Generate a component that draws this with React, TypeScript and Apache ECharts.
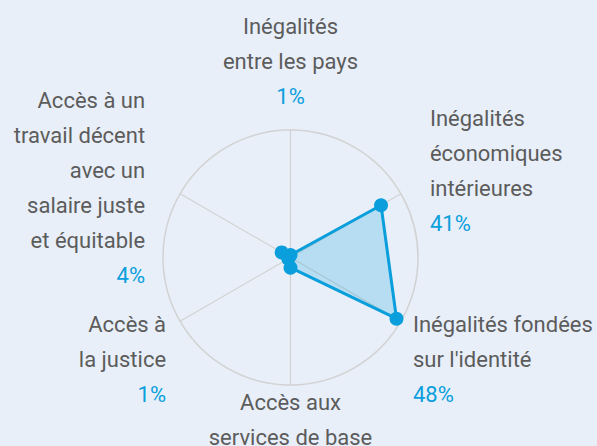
import React, { useEffect, useRef } from "react";
import * as echarts from "echarts";

// Categories in clockwise order, starting at the top
const categories: string[] = [
  "Inégalités\nentre les pays",
  "Inégalités\néconomiques\nintérieures",
  "Inégalités fondées\nsur l'identité",
  "Accès aux\nservices de base",
  "Accès à\nla justice",
  "Accès à un\ntravail décent\navec un\nsalaire juste\net équitable",
];
const values: number[] = [1, 41, 48, 4, 1, 4];
const axisMax = 50;

// Layout tweaks for each label (clockwise order)
const labelPadH = [0, 29, 12, 0, 14, 35];
const labelSpaceTop = [0, 0, 76, 0, 76, 0];
const labelSpaceBottom = [16, 46, 0, 0, 0, 12];
const labelSide = ["c", "l", "l", "c", "r", "r"];

const FONT = "Roboto, 'Liberation Sans', sans-serif";
const FS = 22;
const GRAY = "#5c5c5c";
const BLUE = "#0a9fdc";
const BG = "#e8eff9";

// ECharts lays radar indicators out counter-clockwise from the top
const ecOrder = [0, 5, 4, 3, 2, 1];

export default function App() {
  const ref = useRef<HTMLDivElement>(null);
  useEffect(() => {
    if (!ref.current) return;
    const chart = echarts.init(ref.current, undefined, { renderer: "svg" });
    const rich: Record<string, any> = {};
    categories.forEach((_, i) => {
      const p = labelPadH[i];
      const pad =
        labelSide[i] === "l" ? [0, 0, 0, p] : labelSide[i] === "r" ? [0, p, 0, 0] : [0, 0, 0, 0];
      rich[`n${i}`] = { fontFamily: FONT, fontSize: FS, lineHeight: 35, color: GRAY, padding: pad };
      rich[`v${i}`] = { fontFamily: FONT, fontSize: FS, lineHeight: 35, color: BLUE, padding: pad };
      rich[`st${i}`] = { fontSize: 1, lineHeight: Math.max(1, labelSpaceTop[i]) };
      rich[`sb${i}`] = { fontSize: 1, lineHeight: Math.max(1, labelSpaceBottom[i]) };
    });
    const option: any = {
      animation: false,
      backgroundColor: BG,
      radar: {
        center: [290.5, 257.5],
        radius: 127.5,
        startAngle: 90,
        shape: "circle",
        splitNumber: 1,
        axisNameGap: 0,
        indicator: ecOrder.map((i) => ({ name: categories[i], min: 0, max: axisMax })),
        axisName: {
          fontFamily: FONT,
          fontSize: FS,
          lineHeight: 35,
          color: GRAY,
          formatter: (name: string) => {
            const i = categories.indexOf(name);
            const lines = name.split("\n").map((l) => `{n${i}|${l}}`);
            lines.push(`{v${i}|${values[i]}%}`);
            if (labelSpaceTop[i] > 0) lines.unshift(`{st${i}|\u00a0}`);
            if (labelSpaceBottom[i] > 0) lines.push(`{sb${i}|\u00a0}`);
            return lines.join("\n");
          },
          rich,
        },
        splitLine: { lineStyle: { color: "#d2d2d2", width: 1.5 } },
        axisLine: { lineStyle: { color: "#d2d2d2", width: 1.2 } },
        splitArea: { show: false },
      },
      series: [
        {
          type: "radar",
          symbol: "circle",
          symbolSize: 14,
          lineStyle: { color: BLUE, width: 3 },
          itemStyle: { color: BLUE },
          areaStyle: { color: BLUE, opacity: 0.22 },
          data: [{ value: ecOrder.map((i) => values[i]) }],
        },
      ],
    };
    chart.setOption(option);
    return () => chart.dispose();
  }, []);
  return (
    <div
      ref={ref}
      style={{ position: "fixed", left: 0, top: 0, width: 597, height: 446 }}
    />
  );
}
